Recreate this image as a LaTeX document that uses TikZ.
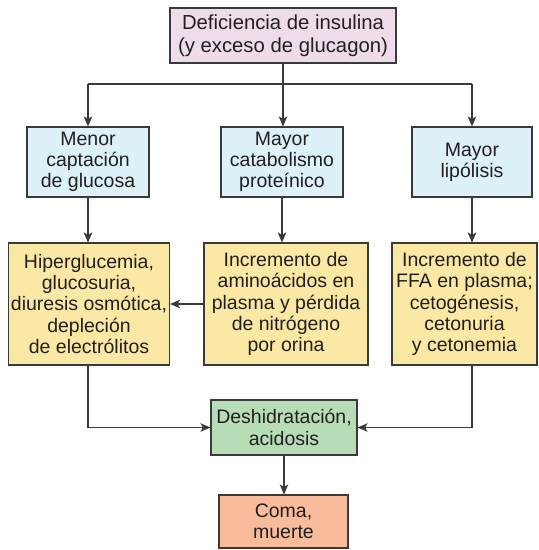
\documentclass[tikz,border=0pt]{standalone}
\usepackage{fontspec}
\setmainfont{Liberation Sans}
\usetikzlibrary{arrows.meta}
\definecolor{pinkbox}{HTML}{EEDCEB}
\definecolor{bluebox}{HTML}{DDF1F9}
\definecolor{yellowbox}{HTML}{FBE8A4}
\definecolor{greenbox}{HTML}{B6DDB6}
\definecolor{salmonbox}{HTML}{F8BC9C}
\definecolor{linec}{HTML}{3A3A3A}
\definecolor{textc}{HTML}{231F20}
\tikzset{
  box/.style={draw=linec, line width=1.1pt, inner sep=0pt, align=center, text=textc,
    font=\fontsize{19.5}{21.2}\selectfont},
  ln/.style={draw=linec, line width=1.3pt},
  arr/.style={draw=linec, line width=1.3pt, -{Stealth[length=10pt,width=8.5pt,inset=2.5pt]}}
}
\begin{document}
\begin{tikzpicture}[x=1pt,y=-1pt]
\useasboundingbox[fill=white] (0,0) rectangle (539,550);
\node[box, fill=pinkbox, minimum width=226pt, minimum height=55pt,
  font=\fontsize{20.3}{22.5}\selectfont] (top) at (283,35.5)
  {Deficiencia de insulina\\(y exceso de glucagon)};
\node[box, fill=bluebox, minimum width=122pt, minimum height=70pt] (a2) at (88,162)
  {Menor\\captación\\de glucosa};
\node[box, fill=bluebox, minimum width=122pt, minimum height=70pt] (b2) at (282,162)
  {Mayor\\catabolismo\\proteínico};
\node[box, fill=bluebox, minimum width=120pt, minimum height=70pt] (c2) at (472,162)
  {Mayor\\lipólisis};
\node[box, fill=yellowbox, minimum width=161pt, minimum height=122pt] (a3) at (89,304)
  {Hiperglucemia,\\glucosuria,\\diuresis osmótica,\\depleción\\de electrólitos};
\node[box, fill=yellowbox, minimum width=164pt, minimum height=122pt] (b3) at (286,304)
  {Incremento de\\aminoácidos en\\plasma y pérdida\\de nitrógeno\\por orina};
\node[box, fill=yellowbox, minimum width=145pt, minimum height=122pt] (c3) at (464.5,304)
  {Incremento de\\FFA en plasma;\\cetogénesis,\\cetonuria\\y cetonemia};
\node[box, fill=greenbox, minimum width=146pt, minimum height=55pt] (d) at (284,427.5)
  {Deshidratación,\\acidosis};
\node[box, fill=salmonbox, minimum width=129pt, minimum height=53pt] (e) at (283.5,521.5)
  {Coma,\\muerte};
\coordinate (br) at (283,84);
\draw[ln] (a2.north |- br) -- (c2.north |- br);
\draw[arr] (top.south) -- (top.south |- b2.north);
\draw[arr] (a2.north |- br) -- (a2.north);
\draw[arr] (c2.north |- br) -- (c2.north);
\draw[arr] (a2.south) -- (a2.south |- a3.north);
\draw[arr] (b2.south) -- (b2.south |- b3.north);
\draw[arr] (c2.south) -- (c2.south |- c3.north);
\draw[arr] (b3.west) -- (a3.east);
\draw[arr] (a3.south -| a2) -- (a2 |- d.west) -- (d.west);
\draw[arr] (c3.south -| c2) -- (c2 |- d.east) -- (d.east);
\draw[arr] (d.south) -- (d.south |- e.north);
\end{tikzpicture}
\end{document}
